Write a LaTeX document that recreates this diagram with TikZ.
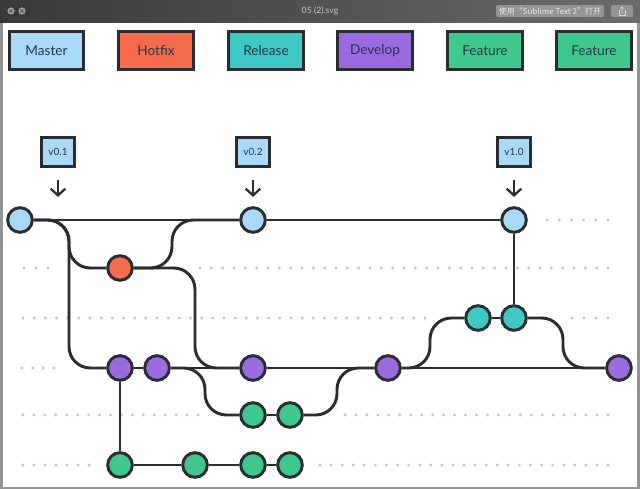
\documentclass[tikz,border=0pt]{standalone}
\usepackage{fontspec}
\setmainfont{Lato}
\newfontfamily\cjk{Noto Sans CJK SC}
\usepackage{tikz}
\usetikzlibrary{arrows.meta}

\definecolor{ink}{HTML}{2A2D30}
\definecolor{txt}{HTML}{253746}
\definecolor{masterc}{HTML}{A8D9F9}
\definecolor{hotfixc}{HTML}{F56A4B}
\definecolor{releasec}{HTML}{3CC9C5}
\definecolor{developc}{HTML}{9C6AE0}
\definecolor{featurec}{HTML}{3DC88D}
\definecolor{dotc}{HTML}{C6C6C6}

\begin{document}
\begin{tikzpicture}[x=0.75pt,y=-0.75pt,
    commit/.style={circle,draw=ink,line width=2.2pt,minimum size=18.5pt,inner sep=0pt},
    legend/.style={rectangle,draw=ink,line width=2.2pt,minimum width=56pt,minimum height=29pt,
      text=txt,font=\fontsize{10.2}{12}\selectfont},
    tag/.style={rectangle,draw=ink,fill=masterc,line width=2pt,minimum width=25pt,minimum height=22pt,
      text=txt,font=\fontsize{7.5}{9}\selectfont},
    branch/.style={draw=ink,line width=2.2pt,rounded corners=16pt},
    tagarrow/.style={draw=ink,line width=1.7pt,-{Straight Barb[length=5pt,width=11pt,line width=1.7pt]},
      shorten <=9pt,shorten >=7pt}]
  \useasboundingbox (0,0) rectangle (640,489);
  % window
  \fill[gray!85] (0,0) rectangle (640,489);
  \fill[white] (3,22) rectangle (637,487);
  \shade[left color=black!78,middle color=black!70,right color=black!58] (0,0) rectangle (640,22);
  \foreach \x in {11,22} {
    \fill[black!38] (\x,11) circle (3.6);
    \draw[black!75,line width=0.5pt] (\x-1.6,9.4) -- (\x+1.6,12.6) (\x-1.6,12.6) -- (\x+1.6,9.4);
  }
  \node[text=black!22,font=\fontsize{6.5}{8}\selectfont] (title) at (320,11) {05 (2).svg};
  \fill[black!42,rounded corners=1.5pt] (496,5) rectangle (604,17);
  \node[text=white!92!black,font=\cjk\fontsize{6}{7}\selectfont] (open) at (550,11) {使用“Sublime Text 2”打开};
  \fill[black!42,rounded corners=1.5pt] (611,5) rectangle (633,17);
  \draw[white!85!black,line width=0.5pt] (619,10) -- (619,15) -- (625,15) -- (625,10);
  \draw[white!85!black,line width=0.5pt] (622,13) -- (622,7) (620.5,8.5) -- (622,7) -- (623.5,8.5);

  % legend
  \node[legend,fill=masterc] (lm) at (46.5,50.5) {Master};
  \node[legend,fill=hotfixc] (lh) at (156,50.5) {Hotfix};
  \node[legend,fill=releasec] (lr) at (266,50.5) {Release};
  \node[legend,fill=developc] (ld) at (375,50.5) {Develop};
  \node[legend,fill=featurec] (lf) at (485,50.5) {Feature};
  \node[legend,fill=featurec] (lg) at (594,50.5) {Feature};

  % dotted lanes
  \foreach \y/\a/\b/\n in {220/547/608/5, 268/24/48/2, 268/200/608/36, 318/23/425/36, 318/572/608/3,
      368/22/54/3, 415/23/198/16, 415/345/608/24, 465/23/89/6, 465/320/608/26}
    \foreach \i in {0,...,\n}
      \fill[dotc] ({\a+(\b-\a)*\i/\n},\y) circle (1.6);

  % commits
  \node[commit,fill=masterc] (m1) at (20,220) {};
  \node[commit,fill=masterc] (m2) at (253,220) {};
  \node[commit,fill=masterc] (m3) at (514,220) {};
  \node[commit,fill=hotfixc] (h1) at (120,268) {};
  \node[commit,fill=releasec] (r1) at (478,318) {};
  \node[commit,fill=releasec] (r2) at (514,318) {};
  \node[commit,fill=developc] (d1) at (120,368) {};
  \node[commit,fill=developc] (d2) at (157,368) {};
  \node[commit,fill=developc] (d3) at (253,368) {};
  \node[commit,fill=developc] (d4) at (388,368) {};
  \node[commit,fill=developc] (d5) at (619,368) {};
  \node[commit,fill=featurec] (fa1) at (253,415) {};
  \node[commit,fill=featurec] (fa2) at (290,415) {};
  \node[commit,fill=featurec] (fb1) at (120,465) {};
  \node[commit,fill=featurec] (fb2) at (195,465) {};
  \node[commit,fill=featurec] (fb3) at (253,465) {};
  \node[commit,fill=featurec] (fb4) at (290,465) {};

  % tags
  \node[tag] (t1) at (58,152) {v0.1};
  \node[tag] (t2) at (253,152) {v0.2};
  \node[tag] (t3) at (514,152) {v1.0};
  \draw[tagarrow] (t1) -- (t1 |- m1.north);
  \draw[tagarrow] (t2) -- (m2);
  \draw[tagarrow] (t3) -- (m3);

  % bend lanes
  \coordinate (c1) at (69,0);
  \coordinate (c2) at (172,0);
  \coordinate (c3) at (195,0);
  \coordinate (c4) at (205,0);
  \coordinate (c5) at (337,0);
  \coordinate (c6) at (430,0);
  \coordinate (c7) at (563,0);

  \draw[branch] (m1) -- (m2) -- (m3);
  \draw[branch] (m1) -| (c1 |- h1) -- (h1);
  \draw[branch] (m1) -| (c1 |- d1) -- (d1);
  \draw[branch] (h1) -| (c2 |- m2) -- (m2);
  \draw[branch] (h1) -| (c3 |- d3) -- (d3);
  \draw[branch] (d1) -- (d2) -- (d3) -- (d4) -- (d5);
  \draw[branch] (d2) -| (c4 |- fa1) -- (fa1);
  \draw[branch] (fa1) -- (fa2);
  \draw[branch] (fa2) -| (c5 |- d4) -- (d4);
  \draw[branch] (d1) -- (fb1);
  \draw[branch] (fb1) -- (fb2) -- (fb3) -- (fb4);
  \draw[branch] (d4) -| (c6 |- r1) -- (r1);
  \draw[branch] (r1) -- (r2);
  \draw[branch] (r2) -- (m3);
  \draw[branch] (r2) -| (c7 |- d5) -- (d5);
\end{tikzpicture}
\end{document}
